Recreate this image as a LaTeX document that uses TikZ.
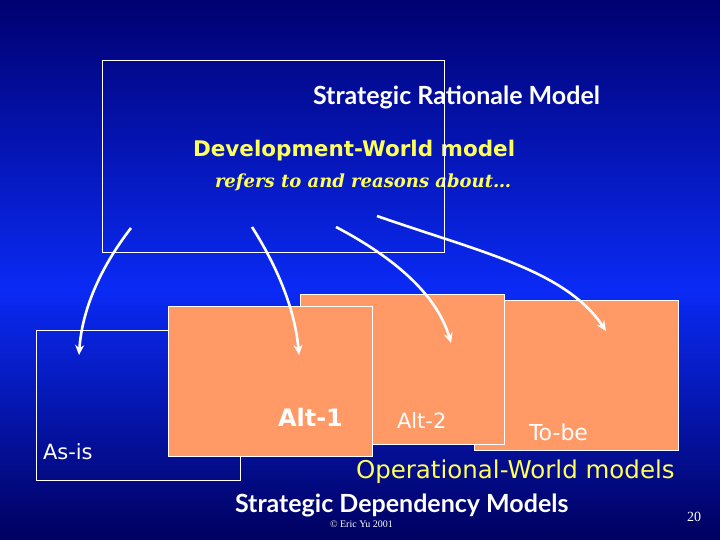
\documentclass[tikz,border=0pt]{standalone}
\usepackage{fontspec}
\setmainfont{Liberation Serif}
\newfontfamily\verdfont{DejaVu Sans}
\newfontfamily\gillfont{Lato}
\newfontfamily\bookfont{DejaVu Serif}
\usetikzlibrary{arrows.meta}
\definecolor{bgtop}{RGB}{0,0,112}
\definecolor{bgmid}{RGB}{10,42,245}
\definecolor{bgbot}{RGB}{0,0,95}
\definecolor{slideorange}{RGB}{255,153,102}
\definecolor{slideyellow}{RGB}{255,255,90}
\begin{document}
\begin{tikzpicture}[x=1pt, y=-1pt,
  every node/.style = {inner sep=0pt, outer sep=0pt},
  model/.style = {draw=white, line width=0.8pt, anchor=north west,
                  minimum width=204pt, minimum height=150pt},
  opmodel/.style = {model, fill=slideorange},
  heading/.style = {anchor=base west, text=white, font=\gillfont\bfseries\fontsize{25}{25}\selectfont},
  boxlabel/.style = {anchor=base west, text=white, font=\verdfont\fontsize{21}{21}\selectfont},
  refer/.style = {white, line width=2.6pt, -{Stealth[length=10pt,width=9pt]}}
  ]
  \shade[top color=bgtop, bottom color=bgmid] (0,0) rectangle (720,290);
  \shade[top color=bgmid, bottom color=bgbot] (0,290) rectangle (720,540);

  % development world
  \node[heading] (srm) at (313,105) {Strategic Rationale Model};
  \node[anchor=base west, text=slideyellow, font=\verdfont\bfseries\fontsize{21.5}{21.5}\selectfont]
    (dev) at (193,157) {Development-World model};
  \node[anchor=base west, text=slideyellow, font=\bookfont\bfseries\itshape\fontsize{18}{18}\selectfont]
    (refers) at (215,188) {refers to and reasons about…};
  \node[draw=white, line width=0.8pt, anchor=north west,
        minimum width=342pt, minimum height=192pt] (devbox) at (102,60) {};

  % operational world
  \node[opmodel] (tobe) at (474,300) {};
  \node[opmodel] (alt2) at (300,294) {};
  \node[model] (asis) at (36,330) {};
  \node[opmodel] (alt1) at (168,306) {};

  \node[boxlabel] (asislbl) at (43,459) {As-is};
  \node[boxlabel, font=\verdfont\bfseries\fontsize{24}{24}\selectfont] (alt1lbl) at (278,426) {Alt-1};
  \node[boxlabel] (alt2lbl) at (397,428) {Alt-2};
  \node[boxlabel, font=\verdfont\fontsize{22}{22}\selectfont] (tobelbl) at (529,440) {To-be};

  \node[anchor=base west, text=slideyellow, font=\verdfont\fontsize{24.5}{24.5}\selectfont]
    (opw) at (356,478) {Operational-World models};
  \node[heading] (sdm) at (235,512) {Strategic Dependency Models};
  \node[anchor=base west, text=white, font=\fontsize{10}{10}\selectfont] (copy) at (330,527) {© Eric Yu 2001};
  \node[anchor=base west, text=white, font=\fontsize{14}{14}\selectfont] (page) at (687,521) {20};

  % references
  \coordinate (s1) at (131,228);
  \coordinate (s2) at (252,227);
  \coordinate (s3) at (336,227);
  \coordinate (s4) at (377,216);
  \coordinate (e1) at (79,355);
  \coordinate (e2) at (299,355);
  \coordinate (e3) at (451,343);
  \coordinate (e4) at (606,331);
  \draw[refer] (s1) .. controls (100,268) and (82,310) .. (e1);
  \draw[refer] (s2) .. controls (278,268) and (295,310) .. (e2);
  \draw[refer] (s3) .. controls (395,258) and (437,295) .. (e3);
  \draw[refer] (s4) .. controls (480,252) and (565,270) .. (e4);
\end{tikzpicture}
\end{document}
